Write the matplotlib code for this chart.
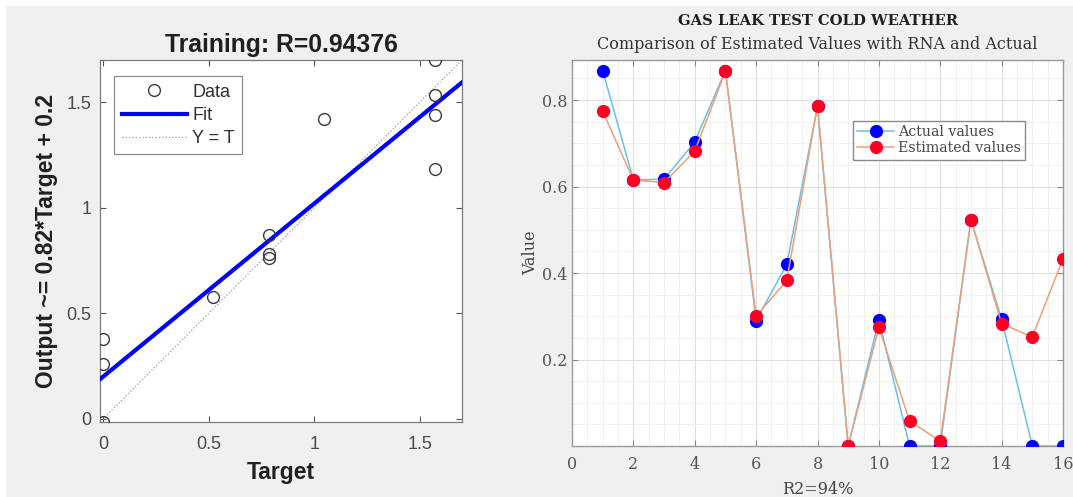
import matplotlib
matplotlib.use("Agg")
import matplotlib.pyplot as plt
from matplotlib.ticker import MultipleLocator
from matplotlib.patches import Rectangle

# ---- Left panel data (regression) ----
target = [0.0, 0.0, 0.0, 0.52, 0.785, 0.785, 0.785, 1.047, 1.571, 1.571, 1.571, 1.571]
output = [-0.015, 0.26, 0.38, 0.575, 0.87, 0.78, 0.76, 1.42, 1.70, 1.535, 1.44, 1.185]
fit_slope = 0.82
fit_intercept = 0.2
reg_title = "Training: R=0.94376"
reg_ylabel = "Output ~= 0.82*Target + 0.2"
reg_xlabel = "Target"
reg_ticks = [0, 0.5, 1, 1.5]
reg_ticklabels = ["0", "0.5", "1", "1.5"]

# ---- Right panel data ----
sample = list(range(1, 17))
actual = [0.868, 0.615, 0.617, 0.703, 0.868, 0.29, 0.42, 0.785, 0.0, 0.292,
          0.0, 0.0, 0.523, 0.293, 0.0, 0.0]
estimated = [0.774, 0.615, 0.609, 0.682, 0.866, 0.30, 0.383, 0.787, 0.0, 0.274,
             0.058, 0.011, 0.523, 0.283, 0.252, 0.433]
cmp_title1 = "GAS LEAK TEST COLD WEATHER"
cmp_title2 = "Comparison of Estimated Values with RNA and Actual"
cmp_xlabel = "R2=94%"
cmp_ylabel = "Value"
cmp_xticks = [0, 2, 4, 6, 8, 10, 12, 14, 16]
cmp_yticks = [0.2, 0.4, 0.6, 0.8]

W, H = 1073, 497
fig = plt.figure(figsize=(W / 100, H / 100), dpi=100, facecolor="#f0f0f0")
# thin white strips at top/left
fig.patches.append(Rectangle((0, 1 - 6 / H), 1, 6 / H, transform=fig.transFigure,
                             facecolor="white", edgecolor="none", zorder=0))
fig.patches.append(Rectangle((0, 0), 6 / W, 1, transform=fig.transFigure,
                             facecolor="white", edgecolor="none", zorder=0))


def px_axes(l, t, r, b):
    return [l / W, 1 - b / H, (r - l) / W, (b - t) / H]


sans = ["Liberation Sans", "DejaVu Sans"]
serif = ["DejaVu Serif"]

# ---------------- Left ----------------
ax1 = fig.add_axes(px_axes(100, 60, 462, 422))
ax1.set_facecolor("white")
lim = (-0.015, 1.70)
ax1.set_xlim(lim)
ax1.set_ylim(lim)
ax1.plot(list(lim), list(lim), linestyle=":", color="#9a9a9a", lw=0.9, label="Y = T", zorder=2)
fx = [lim[0], lim[1]]
fy = [fit_intercept + fit_slope * v for v in fx]
ax1.plot(fx, fy, color="#0000ff", lw=3, label="Fit", zorder=3)
ax1.plot(target, output, linestyle="none", marker="o", markersize=8.5, markerfacecolor="none",
         markeredgecolor="#3a3a3a", markeredgewidth=1.0, label="Data", zorder=4)
ax1.set_xticks(reg_ticks)
ax1.set_xticklabels(reg_ticklabels)
ax1.set_yticks(reg_ticks)
ax1.set_yticklabels(reg_ticklabels)
ax1.tick_params(direction="in", top=True, right=True, length=4, width=0.8,
                colors="#555555", labelsize=13, labelcolor="#4a4a4a")
ax1.tick_params(axis="x", pad=10)
ax1.tick_params(axis="y", pad=6)
for lab in ax1.get_xticklabels() + ax1.get_yticklabels():
    lab.set_family(sans)
for s in ax1.spines.values():
    s.set_color("#7a7a7a")
    s.set_linewidth(0.9)
ax1.set_title(reg_title, fontsize=17.8, fontweight="bold", family=sans, color="#202020", pad=6)
ax1.set_xlabel(reg_xlabel, fontsize=16.5, fontweight="bold", family=sans, color="#202020", labelpad=6)
ax1.set_ylabel(reg_ylabel, fontsize=16.5, fontweight="bold", family=sans, color="#202020", labelpad=6)
h, l = ax1.get_legend_handles_labels()
order = [2, 1, 0]
leg1 = ax1.legend([h[i] for i in order], [l[i] for i in order], loc="upper left",
                  bbox_to_anchor=(0.04, 0.955), prop={"family": sans, "size": 13},
                  frameon=True, fancybox=False, edgecolor="#707070", handlelength=3.6,
                  borderpad=0.4, labelspacing=0.35, handletextpad=0.3, borderaxespad=0)
leg1.get_frame().set_linewidth(0.9)
for t in leg1.get_texts():
    t.set_color("#303030")

# ---------------- Right ----------------
ax2 = fig.add_axes(px_axes(572, 60, 1063, 446))
ax2.set_facecolor("white")
ax2.set_xlim(0, 16)
ax2.set_ylim(0, 0.8925)
ax2.set_xticks(cmp_xticks)
ax2.set_yticks(cmp_yticks)
ax2.xaxis.set_minor_locator(MultipleLocator(0.5))
ax2.yaxis.set_minor_locator(MultipleLocator(0.05))
ax2.grid(True, which="major", color="#dedede", lw=0.7)
ax2.grid(True, which="minor", color="#efefef", lw=0.6)
ax2.set_axisbelow(True)
ax2.plot(sample, actual, color="#6cbfe6", lw=1.1, marker="o", markersize=8.5,
         markerfacecolor="#0000ff", markeredgecolor="#0000ff", label="Actual values", zorder=3)
ax2.plot(sample, estimated, color="#eba07a", lw=1.1, marker="o", markersize=8.5,
         markerfacecolor="#ff0022", markeredgecolor="#ff0022", label="Estimated values", zorder=4)
ax2.tick_params(which="major", direction="in", top=True, right=True, length=4, width=0.8,
                colors="#888888", labelsize=11.5, labelcolor="#555555")
ax2.tick_params(axis="x", which="major", pad=7)
ax2.tick_params(which="minor", length=0, top=True, right=True)
for lab in ax2.get_xticklabels() + ax2.get_yticklabels():
    lab.set_family(serif)
for s in ax2.spines.values():
    s.set_color("#9a9a9a")
    s.set_linewidth(1.0)
ax2.text(0.5, 1.0 + 35 / 386, cmp_title1, transform=ax2.transAxes, ha="center", va="baseline",
         fontsize=10.6, fontweight="bold", family=serif, color="#202020")
ax2.text(0.5, 1.0 + 11 / 386, cmp_title2, transform=ax2.transAxes, ha="center", va="baseline",
         fontsize=11.5, family=serif, color="#333333")
ax2.set_xlabel(cmp_xlabel, fontsize=11.5, family=serif, color="#444444", labelpad=6)
ax2.set_ylabel(cmp_ylabel, fontsize=11.5, family=serif, color="#444444", labelpad=2)
leg2 = ax2.legend(loc="upper left", bbox_to_anchor=(0.572, 0.842), prop={"family": serif, "size": 10.2},
                  frameon=True, fancybox=False, edgecolor="#8a8a8a", handlelength=2.6,
                  borderpad=0.3, labelspacing=0.15, handletextpad=0.3, borderaxespad=0,
                  framealpha=1)
leg2.get_frame().set_linewidth(1.0)
for t in leg2.get_texts():
    t.set_color("#444444")

fig.savefig("out.png", dpi=100, facecolor=fig.get_facecolor())
